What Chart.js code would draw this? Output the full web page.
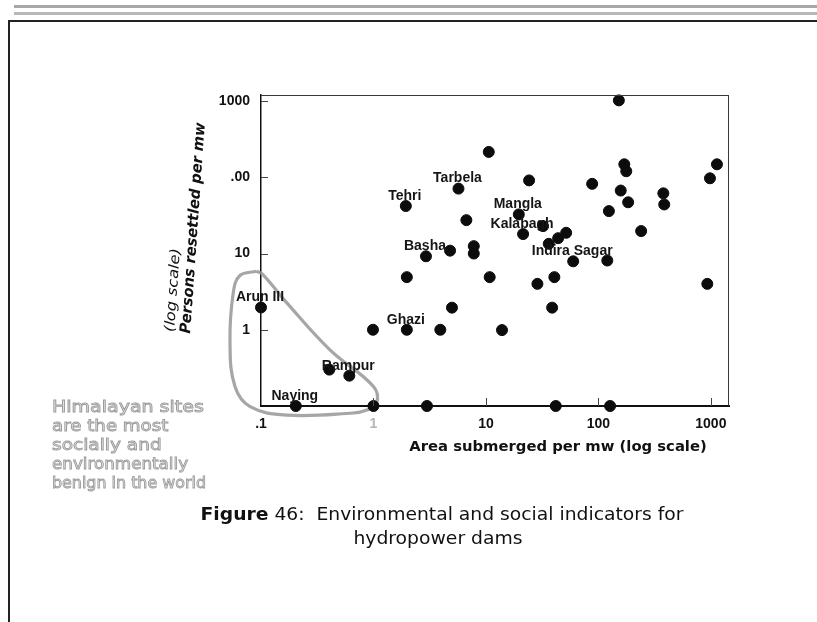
<!DOCTYPE html>
<html>
<head>
<meta charset="utf-8">
<script src="https://cdn.jsdelivr.net/npm/chart.js@4.4.1/dist/chart.umd.min.js"></script>
<style>
  html,body{margin:0;padding:0;background:#fff;}
  #page{position:relative;width:817px;height:622px;overflow:hidden;background:#fff;}
  #wrap{position:absolute;left:0;top:0;width:817px;height:622px;}
  .t{position:absolute;white-space:nowrap;line-height:1;transform-origin:50% 50%;}
  .band{position:absolute;left:14px;right:0;}
  .comic{font-family:"DejaVu Sans",sans-serif;}
  .ann{color:#f2f2f2;-webkit-text-stroke:0.9px #9c9c9c;font-size:16px;}
</style>
</head>
<body>
<div id="page">
  <div class="band" style="top:5px;height:3px;background:#a8a8a8;"></div>
  <div class="band" style="top:12px;height:3px;background:#b8b8b8;"></div>
  <div style="position:absolute;left:8px;right:0;top:20px;height:2px;background:#222;"></div>
  <div style="position:absolute;left:8px;top:20px;width:2px;bottom:0;background:#222;"></div>
  <div id="wrap"><canvas id="c"></canvas></div>
</div>
<script>
// ---------- data ----------
const areaSubmerged = [10.6,152,24.2,5.7,1.94,6.7,88,170,177,158,184,124,240,378,385,1133,982,19.6,21.4,32.2,36.2,43.9,51.7,59.7,120,2.93,4.8,7.8,7.8,1.98,10.8,28.7,40.6,930,4.99,38.8,0.1,0.99,1.98,3.93,13.9,0.405,0.61,0.204,1.0,2.99,41.8,127];
const personsResettled = [215,1020,91,71,42,27.4,82,148,120,67,47,36,19.7,61.6,44,148,97,32.6,18,22.9,13.4,15.9,18.7,7.9,8.1,9.2,10.9,12.5,10,4.9,4.9,4.0,4.9,4.0,1.95,1.95,1.96,1,1,1,0.99,0.30,0.25,0.1,0.1,0.1,0.1,0.1];
const damNames = ["","","","Tarbela","Tehri","","","","","","","","","","","","","Mangla","Kalabagh","","","","","Indira Sagar","","Basha","","","","","","","","","","","Arun III","","Ghazi","","","","Rampur","Naying","","","",""];
// hand-drawn loop around the Himalayan sites (data coordinates)
const loopArea    = [0.0916,0.065,0.0567,0.053,0.0587,0.080,0.169,0.66,0.873,1.07,1.0,0.41,0.169,0.104,0.0916];
const loopPersons = [5.85,5.14,3.07,0.675,0.18,0.098,0.076,0.081,0.0886,0.109,0.18,0.545,2.27,5.3,5.85];
// axis ticks
const tickValues = [0.1,1,10,100,1000];
const xTickLabels = [".1","1","10","100","1000"];
const yTickLabels = ["","1","10",".00","1000"];
// texts
const yTitle1 = "Persons resettled per mw";
const yTitle2 = "(log scale)";
const xTitle = "Area submerged per mw (log scale)";
const noteLines = ["Himalayan sites","are the most","socially and","environmentally","benign in the world"];
const captionLine1 = ["Figure", " 46:  Environmental and social indicators for"];
const captionLine2 = "hydropower dams";

// ---------- chart ----------
const TICKFONT = {family:"'Liberation Sans', Arial, sans-serif", size:14, weight:'bold'};

const framePlugin = {
  id:'frame',
  afterDatasetsDraw(chart){
    const {ctx, chartArea:a, scales:{x,y}} = chart;
    ctx.save();
    ctx.strokeStyle='#3a3a3a'; ctx.lineWidth=1;
    ctx.beginPath(); ctx.moveTo(a.left,a.top+0.5); ctx.lineTo(a.right,a.top+0.5);
    ctx.moveTo(a.right-0.5,a.top); ctx.lineTo(a.right-0.5,a.bottom); ctx.stroke();
    ctx.strokeStyle='#444'; ctx.lineWidth=1;
    ctx.beginPath();
    tickValues.forEach(v=>{
      if(v>0.1){ const py=Math.round(y.getPixelForValue(v))+0.5; ctx.moveTo(a.left,py); ctx.lineTo(a.left+7,py);
                 const px=Math.round(x.getPixelForValue(v))+0.5; ctx.moveTo(px,a.bottom); ctx.lineTo(px,a.bottom-8); }
    });
    ctx.stroke();
    const meta = chart.getDatasetMeta(1);
    ctx.fillStyle='#151515';
    ctx.font = "bold 14px 'Liberation Sans', Arial, sans-serif";
    ctx.textAlign='center'; ctx.textBaseline='middle';
    damNames.forEach((n,i)=>{
      if(!n) return;
      const el = meta.data[i];
      ctx.fillText(n, el.x-1, el.y-10);
    });
    ctx.restore();
  }
};

new Chart(document.getElementById('c'), {
  data:{
    datasets:[
      { type:'line', data: loopArea.map((v,i)=>({x:v,y:loopPersons[i]})),
        borderColor:'rgba(150,150,150,0.85)', borderWidth:3.2, pointRadius:0, tension:0.4,
        fill:false, clip:false, order:2 },
      { type:'scatter', data: areaSubmerged.map((v,i)=>({x:v,y:personsResettled[i]})),
        backgroundColor:'#0c0c0c', borderColor:'#0c0c0c', pointRadius:5.5, pointHoverRadius:5.5,
        clip:false, order:1 }
    ]
  },
  options:{
    responsive:true, maintainAspectRatio:false, animation:false, devicePixelRatio:1,
    layout:{padding:{top:95,right:88,left:0,bottom:0}},
    plugins:{legend:{display:false}, tooltip:{enabled:false}, title:{display:false}},
    scales:{
      x:{ type:'logarithmic', min:0.1, max:1450,
          afterBuildTicks(s){ s.ticks = tickValues.map(v=>({value:v})); },
          afterFit(s){ s.height = 216; },
          grid:{drawOnChartArea:false, drawTicks:false},
          border:{color:'#111', width:2},
          ticks:{ padding:10, font:TICKFONT, maxRotation:0, autoSkip:false,
                  color:(c)=> (c.tick && c.tick.value===1) ? '#b5b5b5' : '#111',
                  callback:(v)=>{ const i=tickValues.indexOf(v); return i>=0?xTickLabels[i]:''; } } },
      y:{ type:'logarithmic', min:0.1, max:1200,
          afterBuildTicks(s){ s.ticks = tickValues.map(v=>({value:v})); },
          afterFit(s){ s.width = 261; },
          grid:{drawOnChartArea:false, drawTicks:false},
          border:{color:'#111', width:1.5},
          ticks:{ padding:11, font:TICKFONT, color:'#111', autoSkip:false,
                  callback:(v)=>{ const i=tickValues.indexOf(v); return i>=0?yTickLabels[i]:''; } } }
    }
  },
  plugins:[framePlugin]
});

// ---------- text blocks (HTML) ----------
const page = document.getElementById('page');
function addText(html, cx, cy, width, angle, style){
  const d = document.createElement('div');
  d.className = 't ' + (style.cls||'');
  d.innerHTML = html;
  Object.assign(d.style, style.css||{});
  d.style.left = cx+'px'; d.style.top = cy+'px';
  page.appendChild(d);
  const w = d.offsetWidth;
  const sx = width ? width / w : 1;
  d.style.transform = `translate(-50%,-50%) rotate(${angle}deg) scaleX(${sx})`;
  return d;
}
const esc = s => s.replace(/&/g,'&amp;').replace(/</g,'&lt;');

addText(esc(yTitle1), 193, 228, 212, -86, {cls:'comic', css:{fontSize:'15px',fontWeight:'bold',fontStyle:'italic',color:'#111'}});
addText(esc(yTitle2), 172, 290, 84, -86, {cls:'comic', css:{fontSize:'14px',fontStyle:'italic',color:'#111'}});
addText(esc(xTitle), 558, 446, 297, 0, {cls:'comic', css:{fontSize:'14px',fontWeight:'bold',color:'#111'}});

const noteY = [407,426,445,464,483];
const noteW = [152,116,110,136,154];
noteLines.forEach((s,i)=>{
  const d = addText(esc(s), 0, noteY[i], noteW[i], 0, {cls:'comic ann'});
  d.style.transformOrigin = '0 50%';
  d.style.left = '52px';
  d.style.transform = `translate(0,-50%) scaleX(${noteW[i]/d.offsetWidth})`;
});

addText(`<b>${esc(captionLine1[0])}</b>${esc(captionLine1[1]).replace(/  /g,' &nbsp;')}`, 442, 514, 483, 0, {cls:'comic', css:{fontSize:'17px',color:'#111'}});
addText(esc(captionLine2), 438, 538, 169, 0, {cls:'comic', css:{fontSize:'17px',color:'#111'}});
</script>
</body>
</html>
